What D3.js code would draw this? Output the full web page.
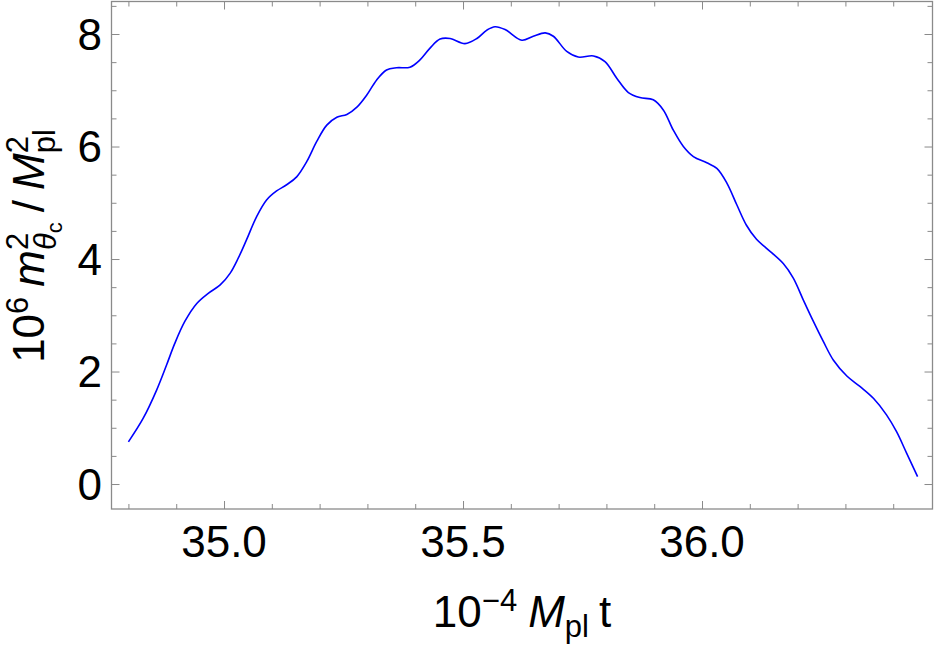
<!DOCTYPE html>
<html>
<head>
<meta charset="utf-8">
<script src="https://cdn.jsdelivr.net/npm/d3@7/dist/d3.min.js"></script>
<style>
  html, body { margin: 0; padding: 0; background: #fff; }
  svg { display: block; }
  text { font-family: "Liberation Sans", Arial, sans-serif; }
</style>
</head>
<body>
<svg id="chart" width="938" height="646"></svg>
<script>
// ---- data ----
const tValues = [
  34.800, 34.831, 34.859, 34.880, 34.897, 34.918, 34.943, 34.967, 34.992, 35.013,
  35.030, 35.047, 35.068, 35.089, 35.110, 35.131, 35.152, 35.173, 35.194, 35.215,
  35.236, 35.257, 35.278, 35.299, 35.319, 35.340, 35.361, 35.389, 35.410, 35.431,
  35.452, 35.473, 35.504, 35.529, 35.550, 35.567, 35.588, 35.623, 35.647, 35.672,
  35.689, 35.717, 35.741, 35.773, 35.797, 35.822, 35.846, 35.870, 35.898, 35.919,
  35.940, 35.961, 35.982, 36.010, 36.031, 36.052, 36.073, 36.093, 36.114, 36.135,
  36.170, 36.191, 36.212, 36.233, 36.254, 36.275, 36.303, 36.331, 36.359, 36.386,
  36.407, 36.428, 36.451
];
const massValues = [
  0.75, 1.17, 1.67, 2.12, 2.50, 2.89, 3.21, 3.39, 3.54, 3.75,
  4.02, 4.34, 4.75, 5.05, 5.21, 5.32, 5.46, 5.73, 6.09, 6.38,
  6.52, 6.57, 6.70, 6.92, 7.18, 7.36, 7.40, 7.41, 7.54, 7.75,
  7.91, 7.92, 7.83, 7.92, 8.07, 8.13, 8.08, 7.89, 7.96, 8.02,
  7.96, 7.69, 7.59, 7.61, 7.51, 7.21, 6.96, 6.87, 6.83, 6.65,
  6.29, 6.00, 5.82, 5.71, 5.61, 5.35, 4.96, 4.60, 4.35, 4.19,
  3.92, 3.66, 3.27, 2.89, 2.53, 2.20, 1.92, 1.73, 1.52, 1.23,
  0.93, 0.55, 0.13
];
const xMajorTicks = [35.0, 35.5, 36.0];
const xTickLabels = ["35.0", "35.5", "36.0"];
const xMinorTicks = [34.8, 34.9, 35.1, 35.2, 35.3, 35.4, 35.6, 35.7, 35.8, 35.9, 36.1, 36.2, 36.3, 36.4];
const yMajorTicks = [0, 2, 4, 6, 8];
const yTickLabels = ["0", "2", "4", "6", "8"];
const yMinorTicks = [0.5, 1, 1.5, 2.5, 3, 3.5, 4.5, 5, 5.5, 6.5, 7, 7.5, 8.5];
const xDomain = [34.7646, 36.4822];
const yDomain = [-0.444, 8.578];

// ---- layout ----
const svg = d3.select("#chart");
const L = 111.5, R = 932.5, T = 1.5, B = 509;
const frameColor = "#8a8a8a";
const x = d3.scaleLinear().domain(xDomain).range([L, R]);
const y = d3.scaleLinear().domain(yDomain).range([B, T]);

const data = tValues.map((t, i) => ({t, v: massValues[i]}));

// curve
svg.append("path")
  .datum(data)
  .attr("fill", "none")
  .attr("stroke", "#0000ff")
  .attr("stroke-width", 1.6)
  .attr("d", d3.line().x(d => x(d.t)).y(d => y(d.v)).curve(d3.curveCatmullRom.alpha(0.5)));

// axes (ticks inward on all four sides)
function styleAxis(g) {
  g.select(".domain").remove();
  g.selectAll(".tick line").attr("stroke", frameColor).attr("stroke-width", 1);
}
const majLen = 8, minLen = 5;
// bottom
svg.append("g").attr("transform", `translate(0,${B})`)
  .call(d3.axisTop(x).tickValues(xMajorTicks).tickSize(majLen).tickFormat(""))
  .call(styleAxis);
svg.append("g").attr("transform", `translate(0,${B})`)
  .call(d3.axisTop(x).tickValues(xMinorTicks).tickSize(minLen).tickFormat(""))
  .call(styleAxis);
// top
svg.append("g").attr("transform", `translate(0,${T})`)
  .call(d3.axisBottom(x).tickValues(xMajorTicks).tickSize(majLen).tickFormat(""))
  .call(styleAxis);
svg.append("g").attr("transform", `translate(0,${T})`)
  .call(d3.axisBottom(x).tickValues(xMinorTicks).tickSize(minLen).tickFormat(""))
  .call(styleAxis);
// left
svg.append("g").attr("transform", `translate(${L},0)`)
  .call(d3.axisRight(y).tickValues(yMajorTicks).tickSize(majLen).tickFormat(""))
  .call(styleAxis);
svg.append("g").attr("transform", `translate(${L},0)`)
  .call(d3.axisRight(y).tickValues(yMinorTicks).tickSize(minLen).tickFormat(""))
  .call(styleAxis);
// right
svg.append("g").attr("transform", `translate(${R},0)`)
  .call(d3.axisLeft(y).tickValues(yMajorTicks).tickSize(majLen).tickFormat(""))
  .call(styleAxis);
svg.append("g").attr("transform", `translate(${R},0)`)
  .call(d3.axisLeft(y).tickValues(yMinorTicks).tickSize(minLen).tickFormat(""))
  .call(styleAxis);

// frame
svg.append("rect")
  .attr("x", L).attr("y", T).attr("width", R - L).attr("height", B - T)
  .attr("fill", "none").attr("stroke", frameColor).attr("stroke-width", 1.3);

// tick labels
const fs = 44;
svg.append("g").selectAll("text").data(xMajorTicks).join("text")
  .attr("x", d => x(d)).attr("y", 557)
  .attr("text-anchor", "middle").attr("font-size", fs).attr("fill", "#000")
  .text((d, i) => xTickLabels[i]);
svg.append("g").selectAll("text").data(yMajorTicks).join("text")
  .attr("x", 102).attr("y", d => y(d) + 15.5)
  .attr("text-anchor", "end").attr("font-size", fs).attr("fill", "#000")
  .text((d, i) => yTickLabels[i]);

// rich text helper: lays out pieces left to right, measuring each
function richText(g, pieces) {
  let cx = 0, mark = 0, maxX = 0;
  pieces.forEach(p => {
    if (p.gap) { cx += p.gap; maxX = Math.max(maxX, cx); return; }
    if (p.reset) cx = mark;
    if (p.mark) mark = cx;
    const t = g.append("text")
      .attr("x", cx).attr("y", p.dy || 0)
      .attr("font-size", p.fs)
      .attr("font-style", p.it ? "italic" : "normal")
      .attr("fill", "#000")
      .text(p.t);
    cx += t.node().getComputedTextLength();
    maxX = Math.max(maxX, cx);
  });
  return maxX;
}

const sfs = 31, ssfs = 22;
// x-axis title
const gx = svg.append("g");
const wx = richText(gx, [
  {t: "10", fs: fs},
  {t: "\u22124", fs: sfs, dy: -16},
  {gap: 11},
  {t: "M", fs: fs, it: true},
  {t: "pl", fs: sfs, dy: 10},
  {gap: 10},
  {t: "t", fs: fs}
]);
gx.attr("transform", `translate(${(L + R) / 2 - wx / 2},627)`);

// y-axis title
const gy = svg.append("g");
const wy = richText(gy, [
  {t: "10", fs: fs},
  {t: "6", fs: sfs, dy: -16},
  {gap: 10},
  {t: "m", fs: fs, it: true},
  {t: "2", fs: sfs, dy: -16, mark: true},
  {t: "\u03B8", fs: sfs, dy: 12, it: true, reset: true},
  {t: "c", fs: ssfs, dy: 18},
  {gap: 10},
  {t: "/", fs: fs},
  {gap: 10},
  {t: "M", fs: fs, it: true},
  {t: "2", fs: sfs, dy: -16, mark: true},
  {t: "pl", fs: sfs, dy: 11, reset: true}
]);
gy.attr("transform", `translate(44,${246 + wy / 2}) rotate(-90)`);
</script>
</body>
</html>
